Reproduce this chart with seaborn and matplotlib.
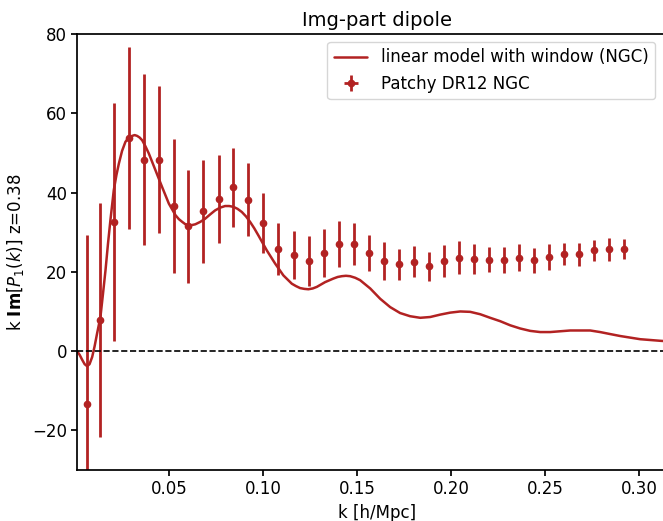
import matplotlib
matplotlib.use("Agg")
import matplotlib.pyplot as plt
from matplotlib.lines import Line2D
from matplotlib.legend_handler import HandlerTuple
import seaborn as sns
import pandas as pd

# ---- data ----
k_data = [0.0061, 0.0131, 0.0207, 0.0286, 0.0364, 0.0444, 0.0523, 0.0601, 0.0681,
          0.0761, 0.0840, 0.0920, 0.100, 0.108, 0.116, 0.124, 0.132, 0.140, 0.148,
          0.156, 0.164, 0.172, 0.180, 0.188, 0.196, 0.204, 0.212, 0.220, 0.228,
          0.236, 0.244, 0.252, 0.260, 0.268, 0.276, 0.284, 0.292]
p_data = [-13.3, 7.8, 32.5, 53.7, 48.3, 48.3, 36.6, 31.5, 35.3, 38.4, 41.3, 38.2,
          32.3, 25.7, 24.2, 22.7, 24.7, 26.9, 27.1, 24.8, 22.7, 21.9, 22.6, 21.4,
          22.7, 23.6, 23.2, 23.1, 23.0, 23.6, 22.9, 23.7, 24.4, 24.4, 25.4, 25.7, 25.8]
err_data = [42.5, 29.5, 30.0, 23.0, 21.6, 18.6, 16.8, 14.2, 13.0, 11.2, 10.0, 9.2,
            7.5, 6.5, 6.0, 6.3, 6.0, 5.8, 5.3, 4.5, 4.7, 3.9, 4.0, 3.6,
            4.0, 4.1, 3.7, 3.2, 3.3, 3.5, 3.2, 3.3, 2.8, 2.9, 2.7, 2.9, 2.6]

k_model = [0.0009, 0.0023, 0.0036, 0.0049, 0.0062, 0.0075, 0.0089, 0.0102, 0.0115,
           0.0133, 0.0146, 0.0160, 0.0173, 0.0186, 0.0204, 0.0218,
           0.0231, 0.0248, 0.0266, 0.0284, 0.0302, 0.0315, 0.0328, 0.0341, 0.0355,
           0.0372, 0.0390, 0.0426, 0.0461, 0.0497,
           0.0532, 0.0550, 0.0568, 0.0585, 0.0603, 0.0620, 0.0638, 0.0664, 0.0690,
           0.0717, 0.0743, 0.0770, 0.0796, 0.0818, 0.0840, 0.0862, 0.0885,
           0.0907, 0.0929, 0.0951, 0.0973, 0.1018, 0.1062, 0.1106, 0.1151, 0.1173,
           0.1195, 0.1217, 0.1239, 0.1262, 0.1284,
           0.1328, 0.1372, 0.1395, 0.1417, 0.1439, 0.1461, 0.1488, 0.1514, 0.1568,
           0.1621, 0.1674, 0.1727,
           0.1780, 0.1834, 0.1887, 0.1940, 0.1993, 0.2047, 0.2100, 0.2153, 0.2206,
           0.2259, 0.2313, 0.2366, 0.2419, 0.2472, 0.2525, 0.2578, 0.2632, 0.2685,
           0.2738, 0.2791, 0.2844, 0.2898, 0.2951, 0.3004, 0.3057, 0.3110, 0.3140]
p_model = [0.0, -1.0, -2.2, -3.3, -3.8, -3.3, -1.5, 1.2, 4.4,
           8.6, 14.2, 20.4, 27.0, 33.0, 40.6, 44.4,
           47.3, 50.5, 52.8, 53.9, 54.3, 54.5, 54.3, 53.9, 53.2,
           51.7, 49.9, 45.6, 41.4, 37.2,
           34.3, 33.3, 32.6, 32.0, 31.8, 31.8, 32.0, 32.6, 33.4,
           34.5, 35.5, 36.2, 36.6, 36.6, 36.4, 35.9, 35.1,
           34.0, 32.6, 31.0, 29.2, 25.4, 22.1, 19.1, 17.0, 16.4,
           15.9, 15.7, 15.6, 15.8, 16.2,
           17.4, 18.3, 18.7, 18.9, 19.0, 18.9, 18.5, 17.9, 15.8,
           13.2, 11.1, 9.6,
           8.8, 8.4, 8.6, 9.2, 9.7, 10.0, 9.9, 9.3, 8.4,
           7.55, 6.5, 5.7, 5.1, 4.8, 4.8, 5.0, 5.2, 5.2,
           5.2, 4.8, 4.3, 3.8, 3.4, 3.0, 2.8, 2.6, 2.5]

title = "Img-part dipole"
xlabel = "k [h/Mpc]"
ylabel = r"k $\mathbf{Im}[P_1(k)]$ z=0.38"
label_model = "linear model with window (NGC)"
label_data = "Patchy DR12 NGC"

# ---- plot ----
sns.set_theme(style="ticks")
plt.rcParams["font.family"] = ["DejaVu Sans"]
plt.rcParams["text.color"] = "black"
plt.rcParams["axes.labelcolor"] = "black"
color = "#b22222"

fig = plt.figure(figsize=(6.63, 5.21), dpi=100)
ax = fig.add_axes([0.1166, 0.0979, 0.9046, 0.8368])

model_df = pd.DataFrame({"k": k_model, "p": p_model})
sns.lineplot(data=model_df, x="k", y="p", ax=ax, color=color, lw=1.8,
             estimator=None, sort=False, legend=False)
model_line = ax.lines[-1]
cont = ax.errorbar(k_data, p_data, yerr=err_data, fmt="o", color=color, ms=4.5,
                   elinewidth=2, capsize=0)
ax.axhline(0, color="black", ls="--", lw=1.2)

ax.set_xlim(0.001, 0.32)
ax.set_ylim(-30, 80)
ax.set_xticks([0.05, 0.10, 0.15, 0.20, 0.25, 0.30])
ax.set_yticks([-20, 0, 20, 40, 60, 80])
ax.tick_params(labelsize=12, colors="black", length=4)
for s in ax.spines.values():
    s.set_color("black")
ax.set_title(title, fontsize=14, color="black")
ax.set_xlabel(xlabel, fontsize=12)
ax.set_ylabel(ylabel, fontsize=12)

hbar = Line2D([], [], color=color, marker="_", ms=10, mew=2, ls="none")
leg = ax.legend([model_line, (hbar, cont)], [label_model, label_data],
                handler_map={tuple: HandlerTuple(ndivide=1)},
                loc="upper right", bbox_to_anchor=(0.988, 0.92),
                borderaxespad=0.0,
                bbox_transform=fig.transFigure, fontsize=12, frameon=True)
for t in leg.get_texts():
    t.set_color("black")

fig.savefig("out.png", dpi=100)
